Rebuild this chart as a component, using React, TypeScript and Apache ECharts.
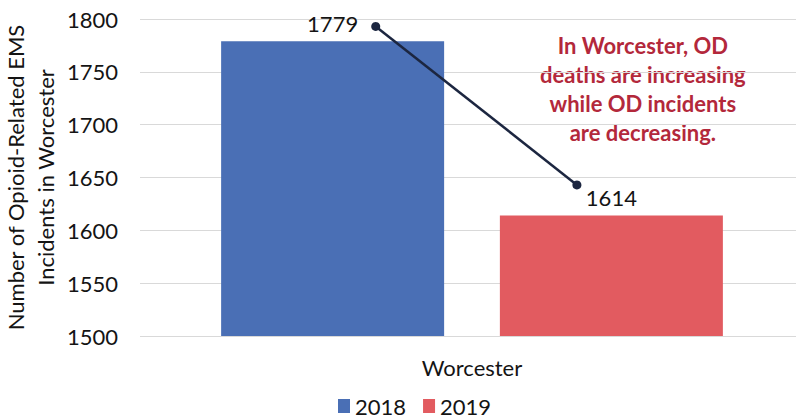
import React, { useEffect, useRef } from "react";
import * as echarts from "echarts";

const categories = ["Worcester"];
const seriesNames = ["2018", "2019"];
const incidents2018 = [1779];
const incidents2019 = [1614];
// trend connector (drawn on a hidden 0..1 horizontal axis)
const trendX = [0.355, 0.658];
const trendY = [1793, 1643];
const yTicks = { min: 1500, max: 1800, interval: 50 };
const annotation = "In Worcester, OD\ndeaths are increasing\nwhile OD incidents\nare decreasing.";
const yName = "Number of Opioid-Related EMS\nIncidents in Worcester";

const FONT = "Lato, 'Open Sans', sans-serif";
const FS = 22;
const INK = "#141414";

export default function App() {
  const ref = useRef<HTMLDivElement>(null);
  useEffect(() => {
    if (!ref.current) return;
    const chart = echarts.init(ref.current, null, { renderer: "svg" });
    const labelStyle = {
      show: true,
      position: "top" as const,
      distance: 7,
      fontSize: FS,
      color: INK,
      fontFamily: FONT,
    };
    chart.setOption({
      animation: false,
      backgroundColor: "#ffffff",
      textStyle: { fontFamily: FONT },
      grid: {
        left: 140,
        right: -8,
        top: 19,
        bottom: 83,
        containLabel: false,
        outerBoundsMode: "none",
      },
      legend: {
        bottom: -3,
        left: 333,
        data: seriesNames,
        icon: "rect",
        itemWidth: 12,
        itemHeight: 14,
        itemGap: 17,
        itemStyle: { borderWidth: 0 },
        textStyle: { fontSize: FS, color: INK, fontFamily: FONT },
      },
      xAxis: [
        {
          type: "category",
          data: categories,
          axisLine: { show: false },
          axisTick: { show: false },
          axisLabel: { fontSize: FS, color: INK, margin: 20, fontFamily: FONT },
        },
        { type: "value", min: 0, max: 1, show: false },
      ],
      yAxis: {
        type: "value",
        min: yTicks.min,
        max: yTicks.max,
        interval: yTicks.interval,
        name: yName,
        nameLocation: "middle",
        nameRotate: 90,
        nameGap: 80,
        nameMoveOverlap: false,
        nameTextStyle: { fontSize: FS, color: INK, lineHeight: 30, fontFamily: FONT },
        axisLine: { show: false },
        axisTick: { show: false },
        axisLabel: {
          fontSize: FS,
          color: INK,
          margin: 22,
          fontFamily: FONT,
          formatter: (v: number) => String(v),
        },
        splitLine: { lineStyle: { color: "#d9d9d9", width: 1 } },
      },
      series: [
        {
          name: seriesNames[0],
          type: "bar",
          data: incidents2018,
          barWidth: 223,
          barGap: "25%",
          itemStyle: { color: "#4a6fb5" },
          label: labelStyle,
        },
        {
          name: seriesNames[1],
          type: "bar",
          data: incidents2019,
          barWidth: 223,
          barGap: "25%",
          itemStyle: { color: "#e25b60" },
          label: labelStyle,
        },
        {
          name: "trend",
          type: "line",
          xAxisIndex: 1,
          yAxisIndex: 0,
          data: trendX.map((x, i) => [x, trendY[i]]),
          symbol: "circle",
          symbolSize: 9,
          lineStyle: { color: "#1c2640", width: 2.5 },
          itemStyle: { color: "#1c2640" },
          z: 5,
        },
      ],
      graphic: [
        {
          type: "text",
          left: 540,
          top: 31,
          style: {
            text: annotation,
            textAlign: "center",
            fill: "#b3283b",
            fontSize: FS,
            fontWeight: "bold",
            lineHeight: 29,
            fontFamily: FONT,
          },
        },
      ],
    });
    return () => chart.dispose();
  }, []);
  return (
    <div
      ref={ref}
      style={{ position: "fixed", left: 0, top: 0, width: 796, height: 419 }}
    />
  );
}
